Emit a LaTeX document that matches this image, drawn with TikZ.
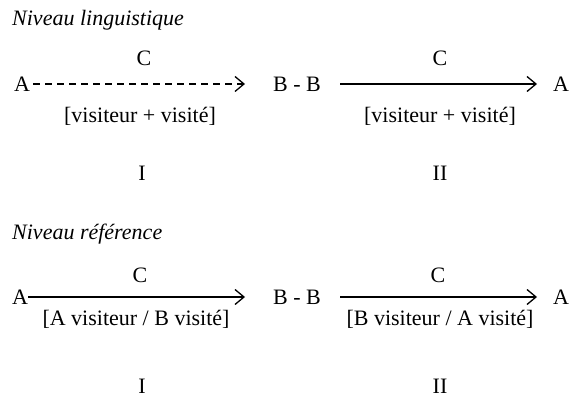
\documentclass[tikz,border=0pt]{standalone}
\usepackage{fontspec}
\setmainfont{Liberation Serif}
\usetikzlibrary{arrows.meta}
\begin{document}
\begin{tikzpicture}[x=1pt,y=-1pt,
  lbl/.style={inner sep=0pt,font=\fontsize{22}{26}\selectfont},
  ttl/.style={inner sep=0pt,anchor=west,font=\fontsize{22}{26}\selectfont\itshape},
  arr/.style={line width=1.3pt,-{Straight Barb[length=9pt,width=15pt,line width=1.3pt]}},
  dsh/.style={arr,dash pattern=on 7pt off 5pt}]
\useasboundingbox (0,0) rectangle (570,403);
% Row 1
\node[ttl] (t1) at (12,20) {Niveau linguistique};
\node[lbl] (a1) at (22,84) {A};
\node[lbl] (bb1) at (297,84) {B - B};
\node[lbl] (a2) at (561,84) {A};
\coordinate (p1) at (245,84);
\coordinate (p2) at (340,84);
\coordinate (p3) at (537,84);
\draw[dsh] (a1.east) ++(3,0) -- (p1);
\draw[arr] (p2) -- (p3);
\node[lbl] (c1) at (144,58) {C};
\node[lbl] (c2) at (440,58) {C};
\node[lbl] (v1) at (140,116) {[visiteur + visité]};
\node[lbl] (v2) at (440,116) {[visiteur + visité]};
\node[lbl] (i1) at (142,173) {I};
\node[lbl] (ii1) at (440,173) {II};
% Row 2
\node[ttl] (t2) at (12,234) {Niveau référence};
\node[lbl] (a3) at (20,297) {A};
\node[lbl] (bb2) at (297,297) {B - B};
\node[lbl] (a4) at (561,297) {A};
\coordinate (q1) at (245,297);
\coordinate (q2) at (340,297);
\coordinate (q3) at (537,297);
\draw[arr] (a3.east) -- (q1);
\draw[arr] (q2) -- (q3);
\node[lbl] (c3) at (140,275) {C};
\node[lbl] (c4) at (438,275) {C};
\node[lbl] (v3) at (136,319) {[A visiteur / B visité]};
\node[lbl] (v4) at (440,319) {[B visiteur / A visité]};
\node[lbl] (i2) at (142,386) {I};
\node[lbl] (ii2) at (440,386) {II};
\end{tikzpicture}
\end{document}
